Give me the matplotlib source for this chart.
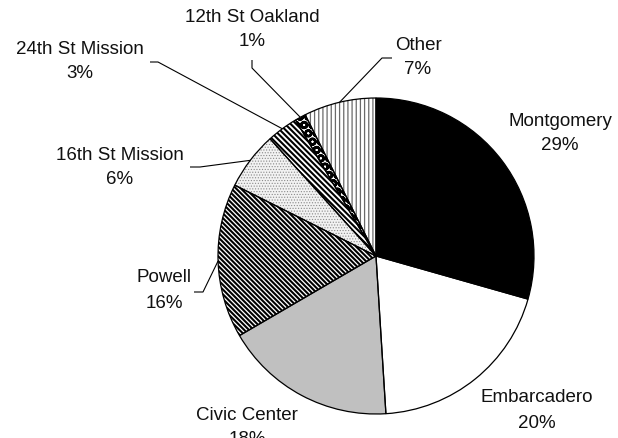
import numpy as np
import matplotlib
matplotlib.use("Agg")
import matplotlib.pyplot as plt

plt.rcParams['font.family'] = ['Liberation Sans', 'DejaVu Sans']
plt.rcParams['hatch.linewidth'] = 1.5

# ---- data ----
stations = ["Montgomery", "Embarcadero", "Civic Center", "Powell",
            "16th St Mission", "24th St Mission", "12th St Oakland", "Other"]
shares = [29.4, 19.6, 17.6, 15.8, 5.9, 3.2, 1.1, 7.4]

# ---- styles ----
facecolors = ["black", "white", "#c0c0c0", "white", "#f2f2f2", "white", "white", "white"]
hatches = [None, None, None, "\\" * 7, "......", "\\" * 6, "OO", "||||"]
hatchcolors = ["black", "black", "black", "black", "#8a8a8a", "black", "black", "#6a6a6a"]

W, H = 618, 438
CX, CY, R = 376, 256, 158          # pie centre/radius in pixel coords (y down)

# label positions (pixel coords, y down): name line centre, percent line below
label_pos = {
    "Montgomery": (560, 121),
    "Embarcadero": (537, 398),
    "Civic Center": (247, 415),
    "Powell": (164, 278),
    "16th St Mission": (120, 155),
    "24th St Mission": (80, 49),
    "12th St Oakland": (252, 17),
    "Other": (418, 45),
}
# leader line elbows (start point, elbow point) in pixel coords
leaders = {
    "Powell": ((194, 292), (203, 292)),
    "16th St Mission": ((190, 167), (200, 167)),
    "24th St Mission": ((150, 62), (158, 62)),
    "12th St Oakland": ((252, 60), (252, 68)),
    "Other": ((392, 58), (382, 58)),
}

def Y(y):
    return H - y

fig = plt.figure(figsize=(W / 100, H / 100), dpi=100)
ax = fig.add_axes([0, 0, 1, 1])

wedges, _ = ax.pie(shares, startangle=90, counterclock=False, radius=R,
                   center=(CX, Y(CY)), frame=True,
                   wedgeprops=dict(linewidth=0))
for w, fc, h, hc in zip(wedges, facecolors, hatches, hatchcolors):
    w.set_facecolor(fc)
    w.set_edgecolor(hc)
    w.set_linewidth(0)
    if h:
        w.set_hatch(h)
        if hasattr(w, "set_hatch_linewidth"):
            if h.startswith("|"):
                w.set_hatch_linewidth(0.9)
            elif h.startswith("."):
                w.set_hatch_linewidth(0.5)
            elif h == "OO":
                w.set_hatch_linewidth(1.8)
            else:
                w.set_hatch_linewidth(1.5)

outl, _ = ax.pie(shares, startangle=90, counterclock=False, radius=R,
                 center=(CX, Y(CY)), frame=True,
                 wedgeprops=dict(fill=False, edgecolor="black", linewidth=0.9))

fs = 13.5
for name, val, w in zip(stations, shares, wedges):
    lx, ly = label_pos[name]
    ax.text(lx, Y(ly), name, ha="center", va="center", fontsize=fs, color="#111111")
    ax.text(lx, Y(ly + 25), f"{round(val)}%", ha="center", va="center",
            fontsize=fs, color="#111111")
    if name in leaders:
        mid = np.deg2rad((w.theta1 + w.theta2) / 2)
        ex = CX + R * np.cos(mid)
        ey = Y(CY) + R * np.sin(mid)
        (sx, sy), (bx, by) = leaders[name]
        ax.plot([sx, bx, ex], [Y(sy), Y(by), ey], color="black", lw=0.8,
                solid_capstyle="butt")

ax.set_xlim(0, W)
ax.set_ylim(0, H)
ax.set_aspect("auto")
ax.axis("off")
fig.savefig("out.png", dpi=100)
